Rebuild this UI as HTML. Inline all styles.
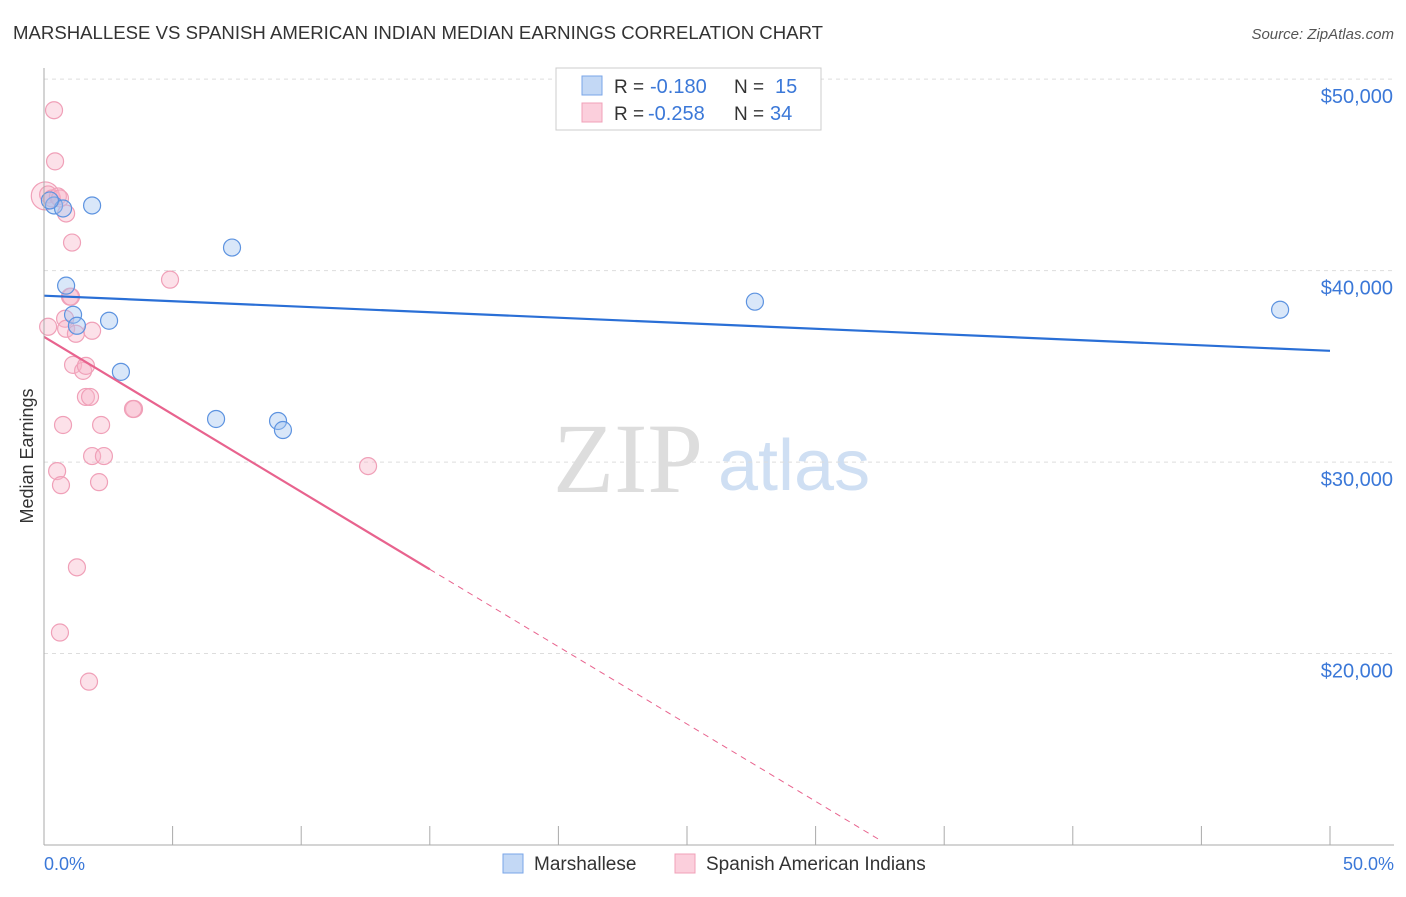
<!DOCTYPE html>
<html><head><meta charset="utf-8"><style>
body{margin:0;background:#fff;font-family:"Liberation Sans",sans-serif;}
</style></head><body>
<svg id="c" width="1406" height="892" xmlns="http://www.w3.org/2000/svg">
<text x="13" y="39" font-size="18.6" fill="#333">MARSHALLESE VS SPANISH AMERICAN INDIAN MEDIAN EARNINGS CORRELATION CHART</text>
<text x="1394" y="39" font-size="15" fill="#555" font-style="italic" text-anchor="end">Source: ZipAtlas.com</text>
<text x="33" y="456" font-size="18" fill="#333" text-anchor="middle" transform="rotate(-90 33 456)">Median Earnings</text>
<text x="553" y="492" font-size="100" fill="#ddd" font-family="Liberation Serif">ZIP</text>
<text x="718" y="490" font-size="72" fill="#cfdff3">atlas</text>
<g id="grid"></g><g id="marks"></g>
<line x1="44" y1="68" x2="44" y2="845" stroke="#aaa"/>
<line x1="44" y1="845" x2="1394" y2="845" stroke="#aaa"/>
<text x="44" y="870" font-size="18" fill="#3b78d8">0.0%</text>
<text x="1394" y="870" font-size="18" fill="#3b78d8" text-anchor="end">50.0%</text>
<g>
<rect x="556" y="68" width="265" height="62" fill="#fff" stroke="#ccc"/>
<rect x="582" y="76" width="20" height="19" fill="#c3d8f5" stroke="#7aa6e8"/>
<rect x="582" y="103" width="20" height="19" fill="#fbcfdc" stroke="#f0a0b8"/>
<text x="614" y="93" font-size="19" fill="#333">R =</text>
<text x="650" y="93" font-size="20" fill="#3b78d8">-0.180</text>
<text x="734" y="93" font-size="19" fill="#333">N =</text>
<text x="775" y="93" font-size="20" fill="#3b78d8">15</text>
<text x="614" y="120" font-size="19" fill="#333">R =</text>
<text x="648" y="120" font-size="20" fill="#3b78d8">-0.258</text>
<text x="734" y="120" font-size="19" fill="#333">N =</text>
<text x="770" y="120" font-size="20" fill="#3b78d8">34</text>
</g>
<g>
<rect x="503" y="854" width="20" height="19" fill="#c3d8f5" stroke="#7aa6e8"/>
<text x="534" y="870" font-size="19" fill="#333">Marshallese</text>
<rect x="675" y="854" width="20" height="19" fill="#fbcfdc" stroke="#f0a0b8"/>
<text x="706" y="870" font-size="19" fill="#333">Spanish American Indians</text>
</g>
</svg>
<script>
const yTicks=[20000,30000,40000,50000];
const yTickLabels=["$20,000","$30,000","$40,000","$50,000"];
const xTicks=[0,5,10,15,20,25,30,35,40,45,50];
const blueX=[0.39,0.74,1.87,7.31,0.86,1.13,1.28,2.53,2.99,6.69,9.10,9.29,27.64,48.06,0.23];
const blueY=[43403,43246,43403,41204,39215,37696,37120,37382,34712,32251,32146,31675,38377,37958,43665];
const pinkX=[0.39,0.43,0.16,0.31,0.54,0.62,0.86,1.09,4.90,1.01,1.05,0.82,0.16,0.86,1.24,1.87,1.13,1.52,1.63,1.63,1.79,3.50,3.46,0.74,2.22,1.87,2.33,0.51,0.66,2.14,12.60,1.28,0.62,1.75];
const pinkY=[48378,45707,43979,43770,43875,43770,42985,41466,39529,38639,38639,37487,37068,36963,36701,36858,35078,34764,35026,33403,33403,32774,32774,31937,31937,30314,30314,29528,28795,28952,29790,24502,21098,18532];
const blueTrend=[[0,38691],[50,35811]];
const pinkTrendSolid=[[0,36544],[15,24397]];
const pinkTrendDash=[[15,24397],[32.5,10260]];
const X=v=>44+v*25.72, Y=v=>845-(v-10000)*0.019146;
const NS="http://www.w3.org/2000/svg";
const grid=document.getElementById('grid'), marks=document.getElementById('marks');
function mk(tag,attrs,parent){const e=document.createElementNS(NS,tag);for(const k in attrs)e.setAttribute(k,attrs[k]);parent.appendChild(e);return e;}
yTicks.forEach((t,i)=>{
 const l=mk('line',{x1:44,x2:1394,y1:Y(t),y2:Y(t),stroke:'#ddd','stroke-dasharray':'4 4'},grid);
 
 
 const tx=mk('text',{x:1393,y:Y(t)+24,'font-size':20,fill:'#3b78d8','text-anchor':'end'},grid);
 tx.textContent=yTickLabels[i];
 
 
});
xTicks.forEach(t=>{
 if(t===0)return;
 const l=mk('line',{x1:X(t),x2:X(t),y1:826,y2:845,stroke:'#aaa'},grid);
 
 
});
const big=mk('circle',{cx:X(0.05),cy:Y(43900),r:14,fill:'rgba(248,180,200,0.35)',stroke:'#f0a0b8','stroke-width':1.2},marks);


pinkX.forEach((x,i)=>{
 const c=mk('circle',{cx:X(x),cy:Y(pinkY[i]),r:8.5,fill:'rgba(248,180,200,0.4)',stroke:'#f0a0b8','stroke-width':1.2},marks);
 
 
});
blueX.forEach((x,i)=>{
 const c=mk('circle',{cx:X(x),cy:Y(blueY[i]),r:8.5,fill:'rgba(160,195,240,0.4)',stroke:'#5d93e0','stroke-width':1.2},marks);
 
 
});
const bl=mk('line',{x1:X(blueTrend[0][0]),y1:Y(blueTrend[0][1]),x2:X(blueTrend[1][0]),y2:Y(blueTrend[1][1]),stroke:'#2a6fd6','stroke-width':2.2},marks);


const pl=mk('line',{x1:X(pinkTrendSolid[0][0]),y1:Y(pinkTrendSolid[0][1]),x2:X(pinkTrendSolid[1][0]),y2:Y(pinkTrendSolid[1][1]),stroke:'#e8638e','stroke-width':2.2},marks);


const pd=mk('line',{x1:X(pinkTrendDash[0][0]),y1:Y(pinkTrendDash[0][1]),x2:X(pinkTrendDash[1][0]),y2:Y(pinkTrendDash[1][1]),stroke:'#e8638e','stroke-width':1,'stroke-dasharray':'6 5'},marks);


</script>
</body></html>
